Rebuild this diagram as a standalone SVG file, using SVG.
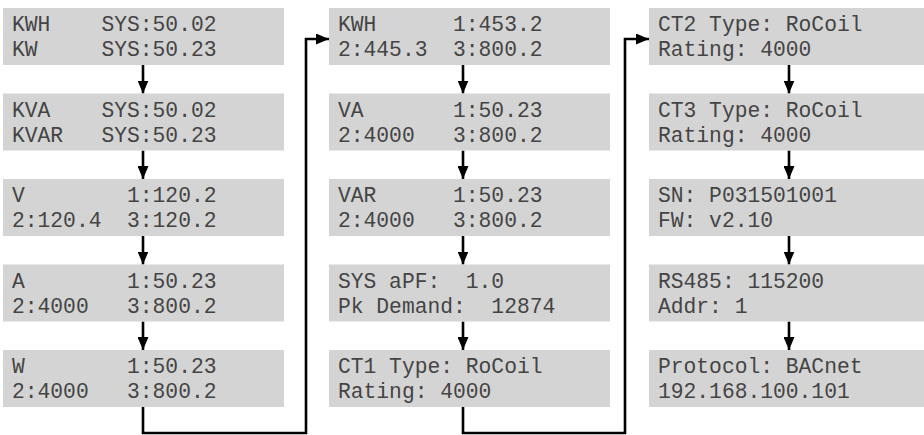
<svg xmlns="http://www.w3.org/2000/svg" width="924" height="435" viewBox="0 0 924 435">
<style>
.box{fill:#d4d4d4}
text{font-family:"Liberation Mono","Courier New",monospace;font-size:21.3px;fill:#444;white-space:pre}
.c{fill:none;stroke:#000;stroke-width:2.6}
</style>
<defs>
<marker id="ah" viewBox="0 0 13 11" refX="13" refY="5.5" markerWidth="13" markerHeight="11" markerUnits="userSpaceOnUse" orient="auto">
<path d="M0,0 L13,5.5 L0,11 z" fill="#000"/>
</marker>
</defs>
<rect width="924" height="435" fill="#fff"/>
<g id="connectors">
<path class="c" d="M143,65 V93.5" marker-end="url(#ah)"/>
<path class="c" d="M143,150.5 V179" marker-end="url(#ah)"/>
<path class="c" d="M143,236 V264.5" marker-end="url(#ah)"/>
<path class="c" d="M143,321.5 V350" marker-end="url(#ah)"/>
<path class="c" d="M463,65 V93.5" marker-end="url(#ah)"/>
<path class="c" d="M463,150.5 V179" marker-end="url(#ah)"/>
<path class="c" d="M463,236 V264.5" marker-end="url(#ah)"/>
<path class="c" d="M463,321.5 V350" marker-end="url(#ah)"/>
<path class="c" d="M789,65 V93.5" marker-end="url(#ah)"/>
<path class="c" d="M789,150.5 V179" marker-end="url(#ah)"/>
<path class="c" d="M789,236 V264.5" marker-end="url(#ah)"/>
<path class="c" d="M789,321.5 V350" marker-end="url(#ah)"/>
<path class="c" d="M143,407 V433 H306 V39 H329" marker-end="url(#ah)"/>
<path class="c" d="M463,407 V433 H625 V39 H649" marker-end="url(#ah)"/>
</g>
<g id="n1"><rect class="box" x="3" y="8" width="281" height="57"/><text x="12" y="31" xml:space="preserve">KWH    SYS:50.02</text><text x="12" y="56" xml:space="preserve">KW     SYS:50.23</text></g>
<g id="n2"><rect class="box" x="3" y="93.5" width="281" height="57"/><text x="12" y="116.5" xml:space="preserve">KVA    SYS:50.02</text><text x="12" y="141.5" xml:space="preserve">KVAR   SYS:50.23</text></g>
<g id="n3"><rect class="box" x="3" y="179" width="281" height="57"/><text x="12" y="202" xml:space="preserve">V        1:120.2</text><text x="12" y="227" xml:space="preserve">2:120.4  3:120.2</text></g>
<g id="n4"><rect class="box" x="3" y="264.5" width="281" height="57"/><text x="12" y="287.5" xml:space="preserve">A        1:50.23</text><text x="12" y="312.5" xml:space="preserve">2:4000   3:800.2</text></g>
<g id="n5"><rect class="box" x="3" y="350" width="281" height="57"/><text x="12" y="373" xml:space="preserve">W        1:50.23</text><text x="12" y="398" xml:space="preserve">2:4000   3:800.2</text></g>
<g id="n6"><rect class="box" x="329" y="8" width="281" height="57"/><text x="338" y="31" xml:space="preserve">KWH      1:453.2</text><text x="338" y="56" xml:space="preserve">2:445.3  3:800.2</text></g>
<g id="n7"><rect class="box" x="329" y="93.5" width="281" height="57"/><text x="338" y="116.5" xml:space="preserve">VA       1:50.23</text><text x="338" y="141.5" xml:space="preserve">2:4000   3:800.2</text></g>
<g id="n8"><rect class="box" x="329" y="179" width="281" height="57"/><text x="338" y="202" xml:space="preserve">VAR      1:50.23</text><text x="338" y="227" xml:space="preserve">2:4000   3:800.2</text></g>
<g id="n9"><rect class="box" x="329" y="264.5" width="281" height="57"/><text x="338" y="287.5" xml:space="preserve">SYS aPF:  1.0</text><text x="338" y="312.5" xml:space="preserve">Pk Demand:  12874</text></g>
<g id="n10"><rect class="box" x="329" y="350" width="281" height="57"/><text x="338" y="373" xml:space="preserve">CT1 Type: RoCoil</text><text x="338" y="398" xml:space="preserve">Rating: 4000</text></g>
<g id="n11"><rect class="box" x="649" y="8" width="275" height="57"/><text x="658" y="31" xml:space="preserve">CT2 Type: RoCoil</text><text x="658" y="56" xml:space="preserve">Rating: 4000</text></g>
<g id="n12"><rect class="box" x="649" y="93.5" width="275" height="57"/><text x="658" y="116.5" xml:space="preserve">CT3 Type: RoCoil</text><text x="658" y="141.5" xml:space="preserve">Rating: 4000</text></g>
<g id="n13"><rect class="box" x="649" y="179" width="275" height="57"/><text x="658" y="202" xml:space="preserve">SN: P031501001</text><text x="658" y="227" xml:space="preserve">FW: v2.10</text></g>
<g id="n14"><rect class="box" x="649" y="264.5" width="275" height="57"/><text x="658" y="287.5" xml:space="preserve">RS485: 115200</text><text x="658" y="312.5" xml:space="preserve">Addr: 1</text></g>
<g id="n15"><rect class="box" x="649" y="350" width="275" height="57"/><text x="658" y="373" xml:space="preserve">Protocol: BACnet</text><text x="658" y="398" xml:space="preserve">192.168.100.101</text></g>
</svg>
